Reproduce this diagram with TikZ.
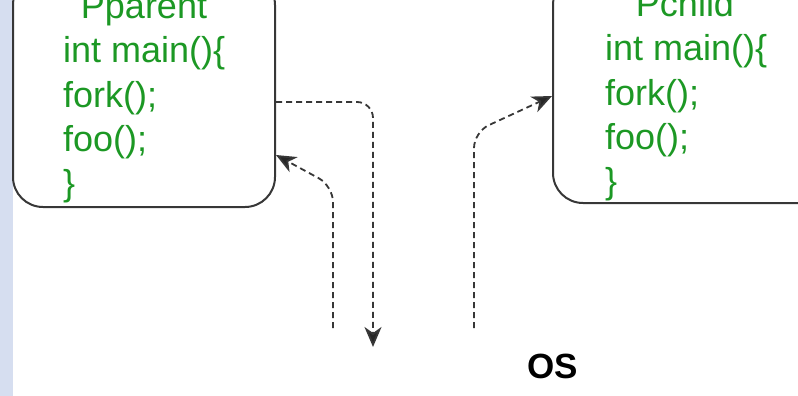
\documentclass[tikz,border=0pt]{standalone}
\usepackage{fontspec}
\setmainfont{Liberation Sans}
\usetikzlibrary{arrows.meta}
\definecolor{codegreen}{RGB}{28,152,36}
\definecolor{edgegray}{RGB}{55,55,55}
\definecolor{stripblue}{RGB}{214,222,240}
\tikzset{
  proc/.style={draw=edgegray,line width=2pt,rounded corners=30pt,inner sep=0pt},
  code/.style={text=codegreen,font=\fontsize{36}{43}\selectfont,inner sep=0pt},
  call/.style={draw=edgegray,line width=1.8pt,dash pattern=on 6pt off 4pt,rounded corners=16pt,
    -{Stealth[length=20pt,width=17pt,inset=6pt,fill=black!85]}},
}
\begin{document}
\begin{tikzpicture}[x=1pt,y=-1pt]
\useasboundingbox (0,0) rectangle (798,396);
\clip (0,0) rectangle (798,396);
\fill[stripblue] (0,0) rectangle (13,396);

% the two processes
\node[proc,minimum width=262pt,minimum height=232pt] (parent) at (144,91) {};
\node[proc,minimum width=290pt,minimum height=228pt] (child) at (698,89) {};

\node[code,anchor=base] (ptitle) at (144,19) {Pparent};
\foreach \l [count=\i] in {int main()\{,fork();,foo();,\}}
  \node[code,anchor=base west] (pline\i) at (63,19+44*\i) {\l};

\node[code,anchor=base] (ctitle) at (685,17) {Pchild};
\foreach \l [count=\i] in {int main()\{,fork();,foo();,\}}
  \node[code,anchor=base west] (cline\i) at (605,17+44*\i) {\l};

\node[font=\bfseries\fontsize{35}{40}\selectfont,anchor=base] (os) at (553,378) {OS};

% calls into the kernel and back
\coordinate (forkout) at (parent.east |- 0,102);
\coordinate (osin) at (373,347);
\draw[call] (forkout) -- (373,102) -- (osin);

\coordinate (osback) at (333,328);
\draw[call] (osback) -- (333,186) -- (parent.east |- 0,155);

\coordinate (osfork) at (474,328);
\draw[call] (osfork) -- (474,132) -- (child.west |- 0,96);

\end{tikzpicture}
\end{document}
